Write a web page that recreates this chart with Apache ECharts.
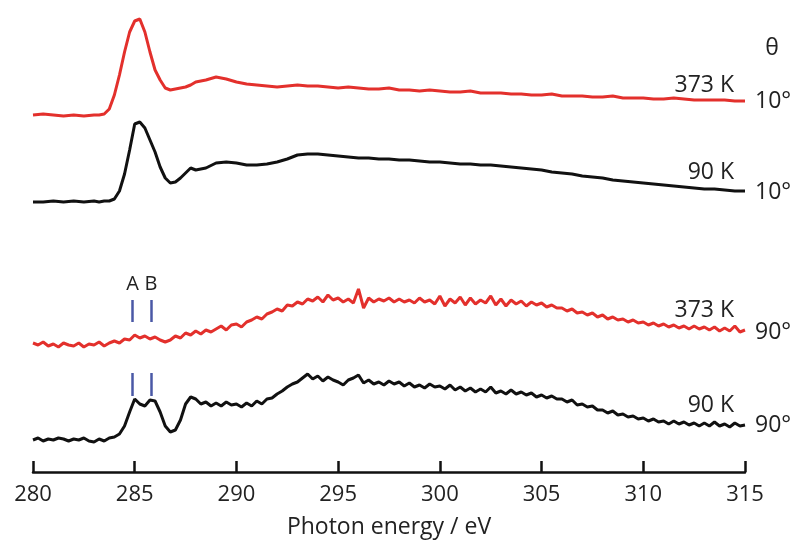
<!DOCTYPE html>
<html>
<head>
<meta charset="utf-8">
<script src="https://cdn.jsdelivr.net/npm/echarts@6/dist/echarts.min.js"></script>
<style>
  html, body { margin: 0; padding: 0; background: #fff; }
  #chart { width: 796px; height: 546px; }
</style>
</head>
<body>
<div id="chart"></div>
<script>
// photon energy grid (eV) for the 10 deg spectra, finer around the C 1s edge
var energy = [
    280, 280.5, 281, 281.5, 282, 282.5, 283,
    283.25, 283.5, 283.75, 284, 284.25, 284.5, 284.75, 285, 285.25, 285.5, 285.75,
    286, 286.25, 286.5, 286.75, 287, 287.25, 287.5, 287.75, 288,
    288.5, 289, 289.5, 290, 290.5, 291, 291.5, 292, 292.5, 293, 293.5, 294, 294.5,
    295, 295.5, 296, 296.5, 297, 297.5, 298, 298.5, 299, 299.5, 300, 300.5,
    301, 301.5, 302, 302.5, 303, 303.5, 304, 304.5, 305, 305.5, 306, 306.5,
    307, 307.5, 308, 308.5, 309, 309.5, 310, 310.5, 311, 311.5, 312, 312.5,
    313, 313.5, 314, 314.5, 315
];

// 0.25 eV grid for the noisier 90 deg spectra
var energyFine = [
    280, 280.25, 280.5, 280.75, 281, 281.25, 281.5, 281.75,
    282, 282.25, 282.5, 282.75, 283, 283.25, 283.5, 283.75,
    284, 284.25, 284.5, 284.75, 285, 285.25, 285.5, 285.75,
    286, 286.25, 286.5, 286.75, 287, 287.25, 287.5, 287.75,
    288, 288.25, 288.5, 288.75, 289, 289.25, 289.5, 289.75,
    290, 290.25, 290.5, 290.75, 291, 291.25, 291.5, 291.75,
    292, 292.25, 292.5, 292.75, 293, 293.25, 293.5, 293.75,
    294, 294.25, 294.5, 294.75, 295, 295.25, 295.5, 295.75,
    296, 296.25, 296.5, 296.75, 297, 297.25, 297.5, 297.75,
    298, 298.25, 298.5, 298.75, 299, 299.25, 299.5, 299.75,
    300, 300.25, 300.5, 300.75, 301, 301.25, 301.5, 301.75,
    302, 302.25, 302.5, 302.75, 303, 303.25, 303.5, 303.75,
    304, 304.25, 304.5, 304.75, 305, 305.25, 305.5, 305.75,
    306, 306.25, 306.5, 306.75, 307, 307.25, 307.5, 307.75,
    308, 308.25, 308.5, 308.75, 309, 309.25, 309.5, 309.75,
    310, 310.25, 310.5, 310.75, 311, 311.25, 311.5, 311.75,
    312, 312.25, 312.5, 312.75, 313, 313.25, 313.5, 313.75,
    314, 314.25, 314.5, 314.75, 315
];

// intensities with vertical offsets (a.u.)
var hot10 = [
    357, 358, 357, 356, 357, 356, 357,
    357, 358, 363, 377, 397, 420, 440, 451, 453, 440, 420,
    402, 392, 384, 382, 383, 384, 385, 387, 390,
    392, 395, 393, 390, 388, 387, 386, 385, 386, 387, 386, 386, 385,
    384, 385, 384, 383, 383, 384, 382, 382, 381, 382, 381, 380,
    380, 381, 379, 379, 379, 378, 378, 377, 377, 378, 376, 376,
    376, 375, 375, 376, 374, 374, 374, 373, 373, 374, 373, 372,
    372, 372, 372, 371, 371
];
var cold10 = [
    270, 270, 271, 270, 271, 270, 271,
    270, 271, 271, 273, 281, 298, 322, 348, 350, 344, 332,
    320, 305, 294, 289, 290, 294, 299, 304, 302,
    304, 309, 310, 309, 307, 307, 308, 310, 313, 317, 318, 318, 317,
    316, 315, 314, 314, 313, 313, 312, 312, 311, 310, 310, 309,
    308, 308, 307, 307, 306, 305, 304, 303, 302, 300, 299, 298,
    296, 295, 294, 292, 291, 290, 289, 288, 287, 286, 285, 284,
    283, 283, 282, 281, 281
];
var hot90 = [
    129, 127, 130, 126, 128, 125, 129, 127,
    126, 129, 125, 128, 127, 130, 126, 129,
    131, 129, 133, 132, 137, 134, 136, 133,
    135, 132, 130, 132, 136, 134, 139, 137,
    141, 138, 142, 140, 143, 146, 142, 147,
    148, 145, 150, 152, 155, 153, 158, 160,
    163, 161, 167, 166, 170, 168, 173, 171,
    175, 170, 177, 172, 174, 170, 173, 169,
    183, 164, 174, 170, 173, 171, 174, 170,
    173, 170, 172, 169, 174, 170, 172, 168,
    176, 166, 173, 169, 175, 167, 174, 168,
    172, 169, 176, 167, 173, 166, 172, 168,
    171, 166, 170, 167, 169, 165, 167, 164,
    164, 161, 163, 159, 160, 157, 159, 155,
    157, 153, 155, 152, 153, 150, 152, 149,
    150, 147, 149, 146, 148, 145, 147, 144,
    146, 143, 146, 143, 145, 142, 145, 141,
    144, 141, 146, 140, 142
];
var cold90 = [
    32, 34, 31, 33, 32, 34, 33, 31,
    33, 32, 34, 31, 30, 33, 31, 34,
    35, 38, 46, 60, 73, 68, 66, 72,
    71, 60, 46, 40, 42, 52, 68, 75,
    73, 68, 70, 66, 69, 66, 70, 67,
    68, 65, 69, 66, 71, 68, 73, 74,
    78, 81, 85, 88, 90, 94, 98, 93,
    96, 91, 95, 92, 90, 87, 92, 94,
    97, 89, 92, 88, 90, 87, 91, 88,
    90, 86, 89, 85, 87, 84, 88, 85,
    86, 83, 87, 82, 85, 81, 84, 80,
    83, 80, 85, 79, 81, 78, 82, 78,
    80, 77, 79, 75, 77, 74, 76, 73,
    73, 70, 72, 67, 68, 65, 66, 62,
    62, 59, 61, 57, 58, 55, 56, 53,
    54, 51, 53, 50, 51, 48, 51, 48,
    50, 47, 49, 46, 49, 46, 50, 46,
    48, 45, 49, 46, 47
];

// A / B resonance markers
var markerEnergy = [284.9, 285.8];
var markerNames = ['A', 'B'];
var markerUpper = [150, 172];
var markerLower = [76, 99];

var xTicks = [280, 285, 290, 295, 300, 305, 310, 315];

var fontName = '"Open Sans", "Noto Sans", sans-serif';
var red = '#e3302c';
var black = '#111111';
var blue = '#4a58a6';

function pairs(xs, vals) {
    var out = [];
    for (var i = 0; i < xs.length; i++) {
        out.push([xs[i], vals[i]]);
    }
    return out;
}

function markerLines(bounds, withLabel) {
    var lines = [];
    for (var i = 0; i < markerEnergy.length; i++) {
        lines.push([
            {coord: [markerEnergy[i], bounds[0]]},
            {coord: [markerEnergy[i], bounds[1]], name: markerNames[i]}
        ]);
    }
    return {
        silent: true,
        symbol: ['none', 'none'],
        animation: false,
        lineStyle: {color: blue, width: 2.5, type: 'solid'},
        label: {
            show: withLabel,
            position: 'end',
            distance: 6,
            formatter: '{b}',
            color: '#222',
            fontFamily: fontName,
            fontSize: 20
        },
        data: lines
    };
}

function spectrum(name, xs, vals, color, mark) {
    var s = {
        name: name,
        type: 'line',
        data: pairs(xs, vals),
        showSymbol: false,
        smooth: false,
        lineStyle: {color: color, width: 3},
        animation: false
    };
    if (mark) s.markLine = mark;
    return s;
}

var chart = echarts.init(document.getElementById('chart'));

function sideText(x, y, text, align) {
    return {
        type: 'text',
        x: x,
        y: y,
        style: {
            text: text,
            fill: '#222',
            font: '23px ' + fontName,
            align: align,
            verticalAlign: 'middle'
        }
    };
}

var option = {
    backgroundColor: '#ffffff',
    grid: {left: 33, right: 51, top: 0, bottom: 74},
    xAxis: {
        type: 'value',
        min: 280,
        max: 315,
        interval: 5,
        name: 'Photon energy / eV',
        nameLocation: 'middle',
        nameGap: 44,
        nameTextStyle: {color: '#222', fontFamily: fontName, fontSize: 23},
        axisLine: {lineStyle: {color: '#111', width: 2.5}},
        axisTick: {inside: true, length: 11, lineStyle: {color: '#111', width: 2.5}},
        axisLabel: {color: '#222', fontFamily: fontName, fontSize: 22, margin: 12,
            customValues: xTicks},
        splitLine: {show: false}
    },
    yAxis: {
        type: 'value',
        min: 0,
        max: 472,
        show: false
    },
    series: [
        spectrum('373 K 10°', energy, hot10, red),
        spectrum('90 K 10°', energy, cold10, black),
        spectrum('373 K 90°', energyFine, hot90, red, markerLines(markerUpper, true)),
        spectrum('90 K 90°', energyFine, cold90, black, markerLines(markerLower, false))
    ],
    graphic: [
        sideText(772, 48, 'θ', 'center'),
        sideText(734, 85, '373 K', 'right'),
        sideText(755, 101, '10°', 'left'),
        sideText(734, 172, '90 K', 'right'),
        sideText(755, 192, '10°', 'left'),
        sideText(734, 310, '373 K', 'right'),
        sideText(755, 332, '90°', 'left'),
        sideText(734, 405, '90 K', 'right'),
        sideText(755, 425, '90°', 'left')
    ]
};

chart.setOption(option);
</script>
</body>
</html>
